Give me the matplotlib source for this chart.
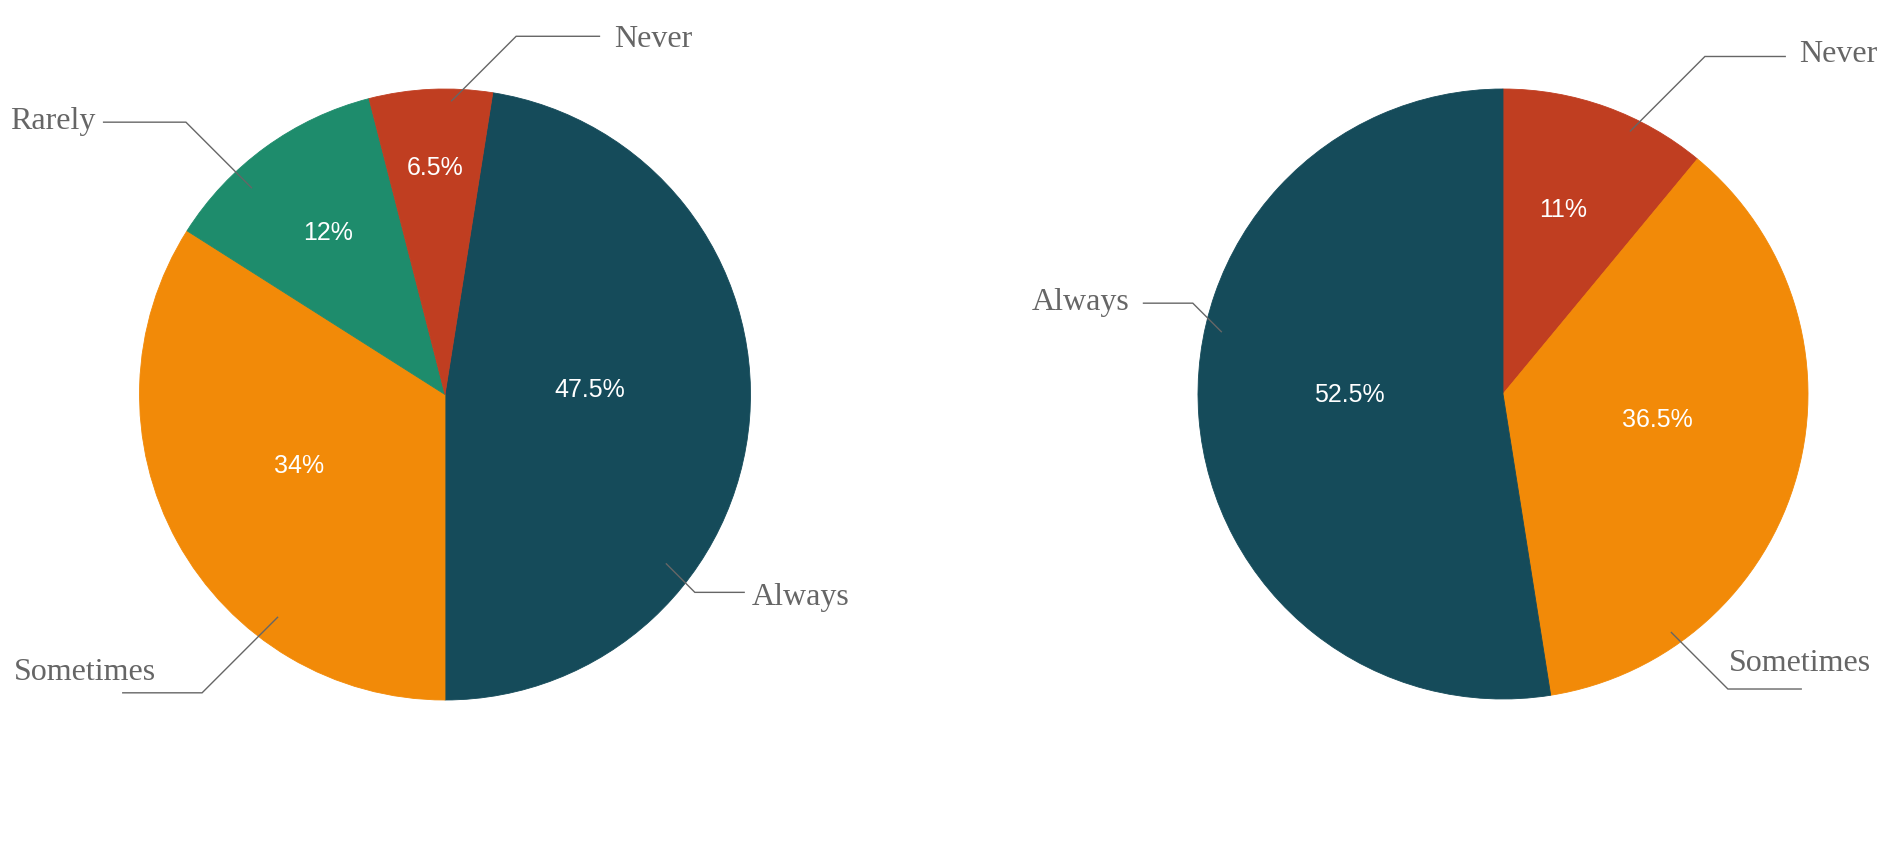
import numpy as np
import matplotlib
matplotlib.use("Agg")
import matplotlib.pyplot as plt

# ---------------- data ----------------
left_labels = ["Always", "Sometimes", "Rarely", "Never"]
left_values = [47.5, 34, 12, 6.5]
right_labels = ["Never", "Sometimes", "Always"]
right_values = [11, 36.5, 52.5]

# ---------------- style ----------------
colors = {"Always": "#154B5A", "Sometimes": "#F28A08", "Rarely": "#1E8C6C", "Never": "#C03E21"}
W, H = 1900, 861
TEXT_GREY = "#666666"

# pie layout (pixels, y from top)
left_pie = dict(center=(445, 394.5), radius=305.5, start=9)     # compass start angle
right_pie = dict(center=(1503, 394.0), radius=305.0, start=0)

# label layout per slice: pct (dtheta, rfrac); connector (dtheta, rfrac, diag, horiz); text offset (dx, dy, ha)
left_layout = {
    "Always":    dict(pct=(-7.1, 0.475), con=(32.9, 0.91, 29, 50), txt=(7, 13, "left")),
    "Sometimes": dict(pct=(3.2, 0.53),   con=(-24.3, 0.91, 76, 80), txt=(34, -13, "right")),
    "Rarely":    dict(pct=(0.4, 0.66),   con=(-7.1, 0.925, 66, 83), txt=(-7, 7, "right")),
    "Never":     dict(pct=(0.2, 0.75),   con=(3.9, 0.96, 65, 84), txt=(14, 11, "left")),
}
right_layout = {
    "Never":     dict(pct=(-1.9, 0.64),  con=(6.0, 0.956, 75, 81), txt=(13, 6, "left")),
    "Sometimes": dict(pct=(-6.5, 0.513), con=(39.5, 0.955, 57, 74), txt=(-73, -18, "left")),
    "Always":    dict(pct=(5.0, 0.505),  con=(16.9, 0.944, 29, 50), txt=(-13, 7, "right")),
}

fig = plt.figure(figsize=(W / 100, H / 100), dpi=100)
ax = fig.add_axes([0, 0, 1, 1])


def draw_pie(labels, values, pie, layout):
    cx, cy_px = pie["center"]
    cy = H - cy_px
    R = pie["radius"]
    wedges, _ = ax.pie(values, colors=[colors[l] for l in labels],
                       startangle=90 - pie["start"], counterclock=False,
                       center=(cx, cy), radius=R,
                       wedgeprops=dict(linewidth=0.6, antialiased=True))
    for w in wedges:
        w.set_edgecolor(w.get_facecolor())

    def pt(theta_c, r):
        t = np.deg2rad(theta_c)
        return cx + r * np.sin(t), cy + r * np.cos(t)

    for w, lab, val in zip(wedges, labels, values):
        mid_c = 90 - (w.theta1 + w.theta2) / 2.0
        lay = layout[lab]
        # percentage label
        dth, rf = lay["pct"]
        px, py = pt(mid_c + dth, rf * R)
        ax.text(px, py - 9, f"{val:g}%", color="white", fontsize=18,
                family=["Liberation Sans", "DejaVu Sans"], ha="center", va="baseline")
        # connector
        dth, rf, diag, horiz = lay["con"]
        tx, ty = pt(mid_c + dth, rf * R)
        sx = 1 if tx >= cx else -1
        sy = 1 if ty >= cy else -1
        ex, ey = tx + sx * diag, ty + sy * diag
        hx = ex + sx * horiz
        ax.plot([tx, ex, hx], [ty, ey, ey], color=TEXT_GREY, lw=1.0,
                solid_joinstyle="miter", solid_capstyle="butt")
        # category label
        ox, oy, ha = lay["txt"]
        ax.text(hx + ox, ey - oy, lab, color=TEXT_GREY, fontsize=23,
                family=["Liberation Serif", "DejaVu Serif"], ha=ha, va="baseline")


draw_pie(left_labels, left_values, left_pie, left_layout)
draw_pie(right_labels, right_values, right_pie, right_layout)

ax.set_xlim(0, W)
ax.set_ylim(0, H)
ax.set_aspect("equal")
ax.axis("off")

fig.savefig("out.png", dpi=100, facecolor="white")
